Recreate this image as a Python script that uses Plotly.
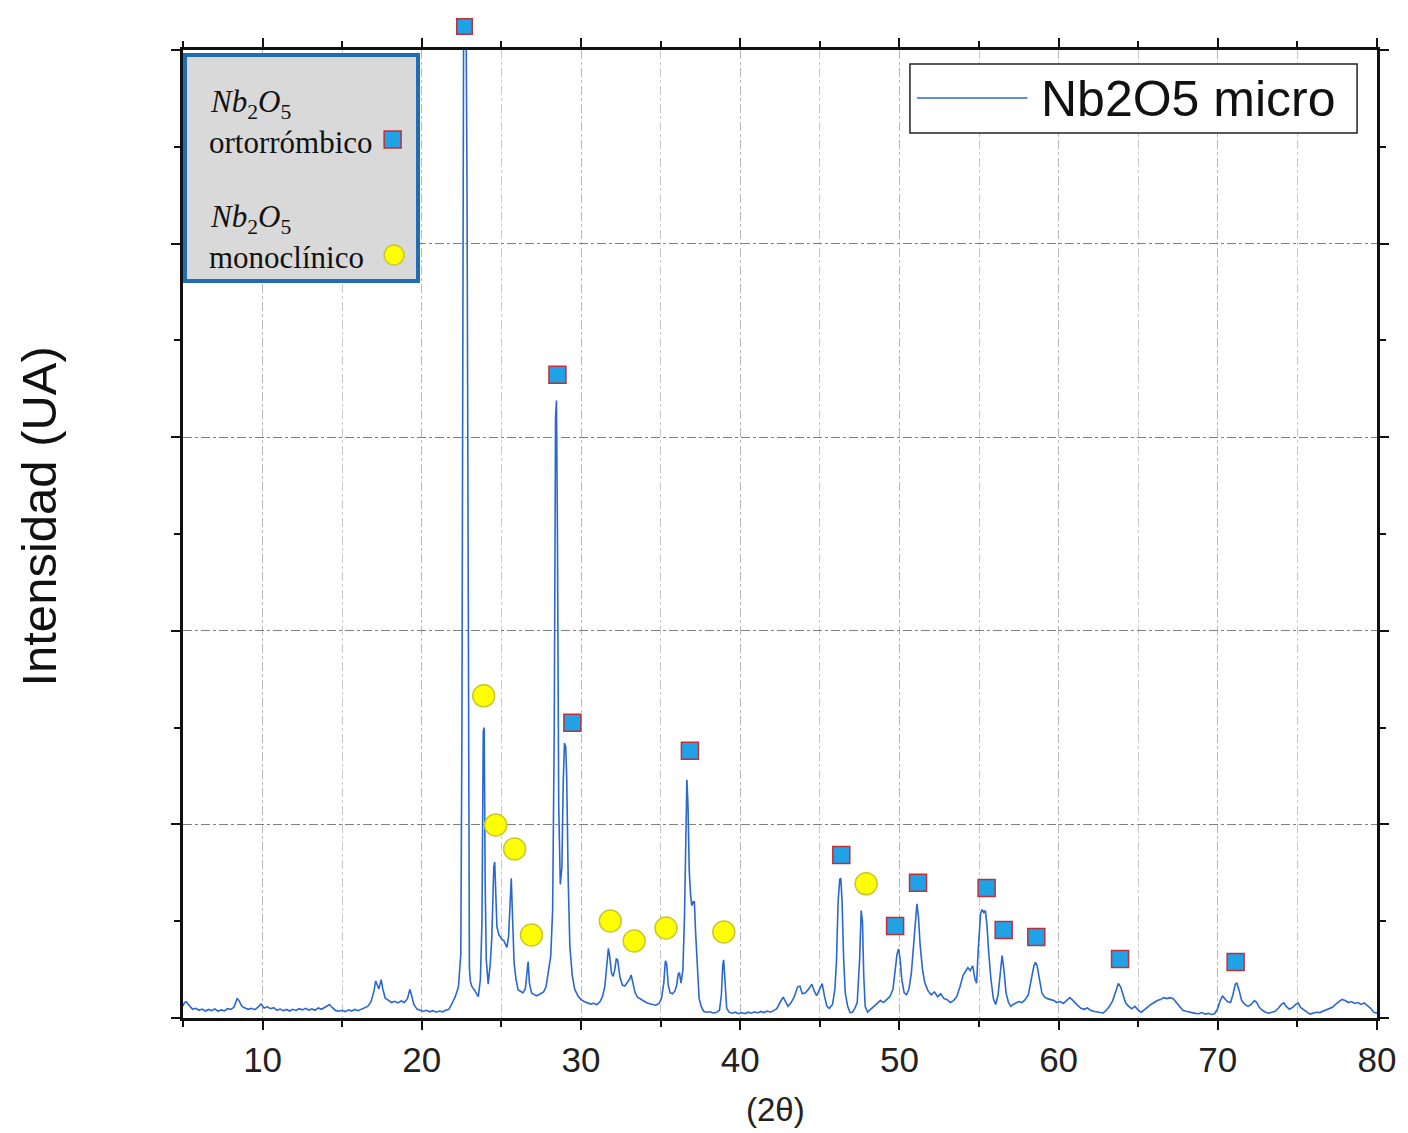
import plotly.graph_objects as go

# XRD pattern of Nb2O5 (micro): 2-theta (deg) and intensity (arbitrary units)
two_theta = [
    5.0, 5.1, 5.2, 5.4, 5.6, 5.8, 6.0, 6.2, 6.4, 6.6, 6.8, 7.0, 7.2, 7.4, 7.6, 7.8, 8.0, 8.2, 8.4, 8.5,
    8.7, 8.9, 9.1, 9.3, 9.5, 9.7, 9.9, 10.1, 10.3, 10.5, 10.7, 10.9, 11.1, 11.3, 11.5, 11.7, 11.9, 12.1,
    12.3, 12.5, 12.7, 12.9, 13.1, 13.3, 13.5, 13.7, 13.9, 14.1, 14.2, 14.4, 14.6, 14.8, 15.0, 15.2, 15.4,
    15.6, 15.8, 16.0, 16.2, 16.4, 16.6, 16.8, 17.0, 17.1, 17.2, 17.3, 17.45, 17.55, 17.7, 17.9, 18.1,
    18.3, 18.5, 18.7, 18.9, 19.1, 19.25, 19.35, 19.5, 19.7, 19.9, 20.1, 20.3, 20.5, 20.7, 20.9, 21.1,
    21.3, 21.5, 21.7, 21.9, 22.1, 22.3, 22.45, 22.52, 22.58, 22.64, 22.7, 22.76, 22.84, 22.92, 22.99,
    23.05, 23.15, 23.3, 23.45, 23.55, 23.68, 23.78, 23.86, 23.92, 23.98, 24.05, 24.17, 24.3, 24.4, 24.52,
    24.58, 24.64, 24.72, 24.84, 24.95, 25.05, 25.15, 25.25, 25.35, 25.45, 25.55, 25.62, 25.7, 25.8,
    25.92, 26.05, 26.2, 26.35, 26.5, 26.6, 26.68, 26.76, 26.9, 27.05, 27.2, 27.35, 27.5, 27.65, 27.8,
    27.95, 28.1, 28.22, 28.32, 28.4, 28.46, 28.52, 28.6, 28.7, 28.8, 28.88, 28.96, 29.04, 29.1, 29.2,
    29.3, 29.45, 29.6, 29.8, 30.0, 30.2, 30.4, 30.6, 30.8, 31.0, 31.2, 31.35, 31.5, 31.62, 31.72, 31.8,
    31.92, 32.02, 32.12, 32.22, 32.3, 32.45, 32.6, 32.75, 32.9, 33.05, 33.15, 33.25, 33.4, 33.55, 33.7,
    33.9, 34.1, 34.3, 34.5, 34.7, 34.9, 35.05, 35.2, 35.3, 35.38, 35.48, 35.6, 35.75, 35.9, 36.0, 36.1,
    36.18, 36.28, 36.4, 36.5, 36.58, 36.65, 36.72, 36.8, 36.88, 36.96, 37.05, 37.12, 37.2, 37.3, 37.42,
    37.55, 37.7, 37.9, 38.1, 38.3, 38.5, 38.7, 38.82, 38.9, 38.96, 39.04, 39.15, 39.3, 39.5, 39.7, 39.9,
    40.1, 40.3, 40.5, 40.7, 40.9, 41.1, 41.3, 41.5, 41.7, 41.9, 42.1, 42.3, 42.5, 42.7, 42.85, 43.0,
    43.2, 43.4, 43.6, 43.75, 43.9, 44.1, 44.3, 44.5, 44.65, 44.8, 45.0, 45.15, 45.3, 45.45, 45.6, 45.8,
    45.95, 46.05, 46.15, 46.25, 46.32, 46.4, 46.5, 46.6, 46.75, 46.9, 47.05, 47.2, 47.35, 47.5, 47.6,
    47.68, 47.76, 47.85, 48.0, 48.2, 48.4, 48.6, 48.8, 49.0, 49.2, 49.4, 49.6, 49.75, 49.85, 49.95,
    50.05, 50.15, 50.3, 50.45, 50.6, 50.75, 50.9, 51.0, 51.1, 51.2, 51.3, 51.45, 51.6, 51.8, 52.0, 52.2,
    52.4, 52.6, 52.8, 53.0, 53.2, 53.4, 53.6, 53.8, 54.0, 54.15, 54.3, 54.45, 54.6, 54.75, 54.85, 54.95,
    55.1, 55.2, 55.3, 55.4, 55.5, 55.6, 55.75, 55.9, 56.05, 56.2, 56.35, 56.45, 56.55, 56.7, 56.85,
    57.0, 57.15, 57.3, 57.5, 57.7, 57.9, 58.1, 58.3, 58.45, 58.55, 58.65, 58.8, 58.95, 59.1, 59.3,
    59.5, 59.7, 59.9, 60.1, 60.3, 60.5, 60.7, 60.85, 61.0, 61.2, 61.4, 61.6, 61.8, 62.0, 62.2, 62.4,
    62.6, 62.8, 63.0, 63.2, 63.4, 63.6, 63.75, 63.9, 64.05, 64.2, 64.4, 64.6, 64.8, 65.0, 65.2, 65.4,
    65.6, 65.8, 66.0, 66.2, 66.4, 66.6, 66.8, 67.0, 67.2, 67.4, 67.6, 67.8, 68.0, 68.2, 68.4, 68.6,
    68.8, 69.0, 69.2, 69.4, 69.6, 69.8, 70.0, 70.15, 70.3, 70.45, 70.6, 70.8, 70.95, 71.1, 71.2, 71.35,
    71.5, 71.7, 71.9, 72.1, 72.3, 72.45, 72.6, 72.8, 73.0, 73.2, 73.4, 73.6, 73.8, 74.0, 74.15, 74.3,
    74.5, 74.7, 74.9, 75.05, 75.2, 75.4, 75.6, 75.8, 76.0, 76.2, 76.4, 76.6, 76.8, 77.0, 77.2, 77.4,
    77.6, 77.8, 78.0, 78.2, 78.4, 78.6, 78.8, 79.0, 79.2, 79.4, 79.6, 79.8, 80.0,
]
intensity = [
    62, 80, 84, 66, 45, 50, 40, 46, 36, 44, 38, 47, 35, 42, 37, 48, 44, 55, 100, 92,
    60, 52, 45, 50, 43, 55, 72, 52, 58, 48, 53, 40, 46, 38, 44, 36, 45, 39,
    48, 42, 50, 41, 47, 40, 52, 45, 55, 62, 70, 52, 38, 35, 40, 33, 42,
    36, 44, 38, 46, 52, 60, 82, 140, 192, 170, 150, 198, 150, 103, 90, 80,
    86, 78, 88, 80, 100, 148, 120, 70, 46, 40, 34, 40, 32, 38, 30, 36,
    32, 40, 45, 75, 110, 160, 330, 1500, 4200, 5600, 5700, 5500, 4300, 1400, 260,
    190, 162, 145, 120, 110, 200, 500, 1480, 1500, 700, 300, 175, 280, 420, 780,
    805, 650, 470, 430, 415, 405, 400, 380, 365, 420, 650, 722, 520, 280,
    200, 145, 138, 130, 150, 240, 292, 180, 128, 122, 115, 120, 128, 135, 160,
    230, 320, 560, 1500, 3100, 3190, 2500, 1100, 690, 780, 1200, 1420, 1400, 1250, 700,
    370, 220, 150, 115, 95, 85, 80, 72, 76, 68, 85, 110, 165, 280, 360, 320,
    230, 215, 250, 305, 300, 210, 170, 165, 180, 200, 222, 190, 130, 108, 100,
    88, 80, 74, 70, 66, 75, 100, 180, 295, 280, 170, 130, 125, 140, 165, 225,
    235, 180, 250, 520, 1050, 1230, 1100, 760, 640, 580, 600, 600, 440, 250, 100,
    60, 35, 30, 32, 26, 28, 40, 120, 270, 300, 200, 50, 30, 25, 30, 22,
    28, 22, 30, 25, 32, 26, 34, 28, 36, 30, 38, 48, 80, 108, 85, 60,
    80, 110, 160, 165, 125, 130, 150, 174, 140, 115, 150, 178, 110, 60, 50, 70,
    150, 300, 600, 715, 722, 600, 300, 130, 60, 28, 30, 50, 80, 300, 555,
    500, 220, 60, 30, 45, 55, 70, 90, 80, 95, 110, 150, 250, 330, 357,
    300, 200, 130, 120, 150, 230, 400, 520, 590, 520, 380, 250, 180, 140, 120, 135,
    110, 125, 100, 95, 80, 90, 110, 160, 220, 240, 260, 245, 270, 200, 180, 350,
    540, 560, 545, 555, 480, 350, 200, 100, 70, 120, 250, 322, 260, 130, 80,
    60, 70, 75, 85, 80, 95, 120, 200, 270, 287, 270, 200, 130, 110, 100,
    95, 90, 80, 85, 75, 90, 105, 95, 80, 65, 50, 45, 52, 40, 35, 30,
    28, 26, 40, 60, 90, 140, 178, 160, 120, 80, 60, 48, 60, 40, 30, 45,
    55, 70, 80, 90, 95, 105, 100, 105, 100, 80, 60, 40, 35, 30, 28, 24,
    22, 28, 20, 24, 18, 22, 50, 90, 113, 100, 85, 80, 120, 175, 180, 140,
    90, 70, 60, 70, 90, 80, 55, 40, 30, 25, 30, 35, 50, 70, 78, 60,
    45, 55, 70, 78, 55, 40, 30, 20, 25, 30, 28, 35, 40, 45, 55, 70,
    85, 96, 90, 80, 85, 75, 80, 70, 78, 65, 50, 30, 25,
]

# Phase identification markers (2-theta, marker height)
orto_2theta = [22.7, 28.52, 29.46, 36.84, 46.35, 49.73, 51.17, 55.48, 56.55, 58.6, 63.86, 71.12]
orto_y = [5121, 3323, 1525, 1380, 842, 475, 698, 672, 455, 419, 305, 289]
mono_2theta = [23.89, 24.64, 25.83, 26.89, 31.84, 33.34, 35.34, 38.97, 47.91]
mono_y = [1664, 997, 873, 429, 501, 398, 465, 444, 693]

x_ticks = [10, 20, 30, 40, 50, 60, 70, 80]
y_max = 5000

LINE_BLUE = "#2a68d0"
SQ_FILL = "#1fa3e6"
SQ_EDGE = "#c0303a"
CIRC_FILL = "#ffff00"
CIRC_EDGE = "#c8c832"

W, H = 1408, 1133
L, R, T, B = 183, 26, 50, 115
pw, ph = W - L - R, H - T - B


def px(xp):
    return (xp - L) / pw


def py(yp):
    return 1 - (yp - T) / ph


fig = go.Figure()

fig.add_trace(go.Scatter(
    x=two_theta, y=intensity, mode="lines", name="Nb2O5 micro", showlegend=False,
    line=dict(color=LINE_BLUE, width=1.6),
))

# markers inside the axis range go through a scatter trace
sq_in = [(x, y) for x, y in zip(orto_2theta, orto_y) if y <= y_max]
ci_in = [(x, y) for x, y in zip(mono_2theta, mono_y) if y <= y_max]
fig.add_trace(go.Scatter(
    x=[p[0] for p in sq_in], y=[p[1] for p in sq_in], mode="markers", showlegend=False, cliponaxis=False,
    marker=dict(symbol="square", size=17, color=SQ_FILL, line=dict(color=SQ_EDGE, width=1.5)),
))
fig.add_trace(go.Scatter(
    x=[p[0] for p in ci_in], y=[p[1] for p in ci_in], mode="markers", showlegend=False, cliponaxis=False,
    marker=dict(symbol="circle", size=22, color=CIRC_FILL, line=dict(color=CIRC_EDGE, width=1.5)),
))

annotations = []
# markers above the top of the axis: drawn as boxes positioned on the x scale,
# with the height converted from the data value to the paper fraction
for x, y in zip(orto_2theta, orto_y):
    if y > y_max:
        annotations.append(dict(
            x=x, xref="x", y=y / y_max, yref="paper", text="", width=14, height=14,
            bgcolor=SQ_FILL, bordercolor=SQ_EDGE, borderwidth=1.5, borderpad=0,
            xanchor="center", yanchor="middle", showarrow=False,
        ))

shapes = [
    # phase key box
    dict(type="rect", xref="paper", yref="paper", x0=px(185), x1=px(419), y0=py(281), y1=py(55),
         fillcolor="#d9d9d9", line=dict(color="#1f6db5", width=4), layer="above"),
    dict(type="rect", xref="paper", yref="paper", x0=px(385), x1=px(402), y0=py(148), y1=py(131),
         fillcolor=SQ_FILL, line=dict(color=SQ_EDGE, width=1.5), layer="above"),
    dict(type="circle", xref="paper", yref="paper", x0=px(385), x1=px(405), y0=py(265), y1=py(245),
         fillcolor=CIRC_FILL, line=dict(color=CIRC_EDGE, width=1.5), layer="above"),
    # series key box
    dict(type="rect", xref="paper", yref="paper", x0=px(913), x1=px(1362), y0=py(133), y1=py(64),
         fillcolor="white", line=dict(color="#222", width=1.5), layer="above"),
    dict(type="line", xref="paper", yref="paper", x0=px(920), x1=px(1031), y0=py(98), y1=py(98),
         line=dict(color=LINE_BLUE, width=1.4), layer="above"),
]

serif = "Liberation Serif"
nb2o5 = "<i>Nb</i><sub>2</sub><i>O</i><sub>5</sub>"
text_items = [
    dict(text=nb2o5, x=px(208), y=py(104), xanchor="left", yanchor="middle",
         font=dict(family=serif, size=31, color="#111")),
    dict(text="ortorrómbico", x=px(207), y=py(142), xanchor="left", yanchor="middle",
         font=dict(family=serif, size=31, color="#111")),
    dict(text=nb2o5, x=px(208), y=py(219), xanchor="left", yanchor="middle",
         font=dict(family=serif, size=31, color="#111")),
    dict(text="monoclínico", x=px(207), y=py(257), xanchor="left", yanchor="middle",
         font=dict(family=serif, size=31, color="#111")),
    dict(text="Nb2O5 micro", x=px(1043), y=py(99), xanchor="left", yanchor="middle",
         font=dict(family="Liberation Sans", size=50, color="#111")),
    dict(text="Intensidad (UA)", x=px(38), y=py(517), xanchor="center", yanchor="middle", textangle=-90,
         font=dict(family="Liberation Sans", size=49, color="#111")),
    dict(text="(2θ)", x=px(778), y=py(1109), xanchor="center", yanchor="middle",
         font=dict(family="Liberation Sans", size=33, color="#222")),
]
for a in text_items:
    a.update(xref="paper", yref="paper", showarrow=False)
annotations += text_items

fig.update_layout(
    width=W, height=H,
    margin=dict(l=L, r=R, t=T, b=B),
    paper_bgcolor="white", plot_bgcolor="white",
    font=dict(family="Liberation Sans", color="#222"),
    shapes=shapes, annotations=annotations,
    showlegend=False,
)

fig.update_xaxes(
    range=[5, 80], tickvals=x_ticks, ticks="outside", ticklen=9, tickwidth=2, tickcolor="#111",
    showline=True, linecolor="#111", linewidth=2.5, mirror="allticks",
    tickfont=dict(size=35, color="#222"),
    showgrid=True, gridcolor="#b8b8b8", griddash="dashdot", gridwidth=1,
    minor=dict(dtick=5, tick0=5, ticks="outside", ticklen=6, tickwidth=2, tickcolor="#111",
               showgrid=True, gridcolor="#c8c8c8", griddash="dashdot", gridwidth=1),
    zeroline=False,
)
fig.update_yaxes(
    range=[0, y_max], dtick=1000, tick0=0, ticks="outside", ticklen=9, tickwidth=2, tickcolor="#111",
    showline=True, linecolor="#111", linewidth=2.5, mirror="allticks",
    showticklabels=False,
    showgrid=True, gridcolor="#808080", griddash="dashdot", gridwidth=1,
    minor=dict(dtick=500, tick0=0, ticks="outside", ticklen=6, tickwidth=2, tickcolor="#111", showgrid=False),
    zeroline=False,
)

fig.write_html("out.html")
